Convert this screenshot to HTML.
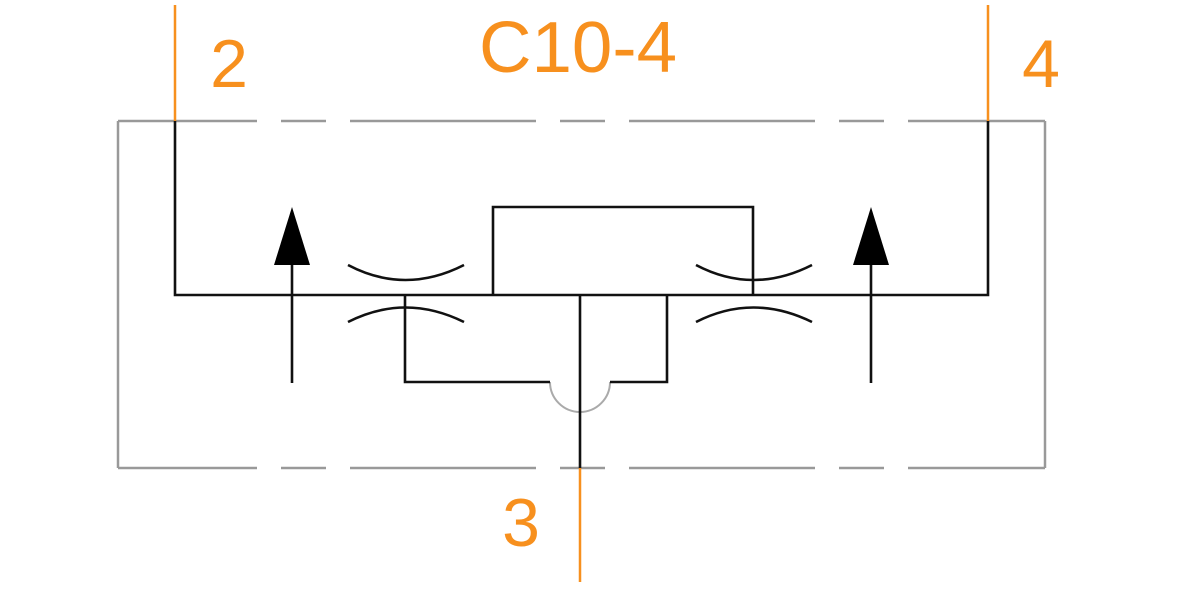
<!DOCTYPE html>
<html><head><style>html,body{margin:0;padding:0;background:#fff}svg{display:block}</style></head>
<body>
<svg width="1200" height="600" viewBox="0 0 1200 600" xmlns="http://www.w3.org/2000/svg">
<g stroke="#999" stroke-width="2.5" fill="none">
<line x1="118" y1="121" x2="118" y2="468"/>
<line x1="1045" y1="121" x2="1045" y2="468"/>
<line x1="118" y1="121" x2="1045" y2="121" stroke-dasharray="186 24 45 24" stroke-dashoffset="47"/>
<line x1="118" y1="468" x2="1045" y2="468" stroke-dasharray="186 24 45 24" stroke-dashoffset="47"/>
<path d="M550 382 A30 30 0 0 0 610 382" stroke="#aaa" stroke-width="2"/>
</g>
<g stroke="#f7901e" stroke-width="2.5">
<line x1="175" y1="5" x2="175" y2="121"/>
<line x1="988" y1="5" x2="988" y2="121"/>
<line x1="580" y1="468" x2="580" y2="582"/>
</g>
<g stroke="#111" stroke-width="2.6" fill="none">
<polyline points="175,121 175,295 988,295 988,121"/>
<polyline points="493,295 493,207 753,207 753,295"/>
<line x1="580" y1="295" x2="580" y2="468"/>
<polyline points="405,295 405,382 550,382"/>
<polyline points="610,382 667,382 667,295"/>
<line x1="292" y1="262" x2="292" y2="383"/>
<line x1="871" y1="262" x2="871" y2="383"/>
<path d="M348 265 Q405 295 464 265"/>
<path d="M348 322 Q405 293 464 322"/>
<path d="M696 265 Q753 295 812 265"/>
<path d="M696 322 Q753 293 812 322"/>
</g>
<g fill="#000">
<polygon points="292,207 274,265 310,265"/>
<polygon points="871,207 853,265 889,265"/>
</g>
<g fill="#f7901e" font-family="Liberation Sans, sans-serif" font-size="72">
<text x="578" y="72" text-anchor="middle" textLength="198" lengthAdjust="spacingAndGlyphs">C10-4</text>
<text x="229" y="87" text-anchor="middle" font-size="68">2</text>
<text x="1041" y="87" text-anchor="middle" font-size="68">4</text>
<text x="521" y="546" text-anchor="middle" font-size="68">3</text>
</g>
</svg>
</body></html>
